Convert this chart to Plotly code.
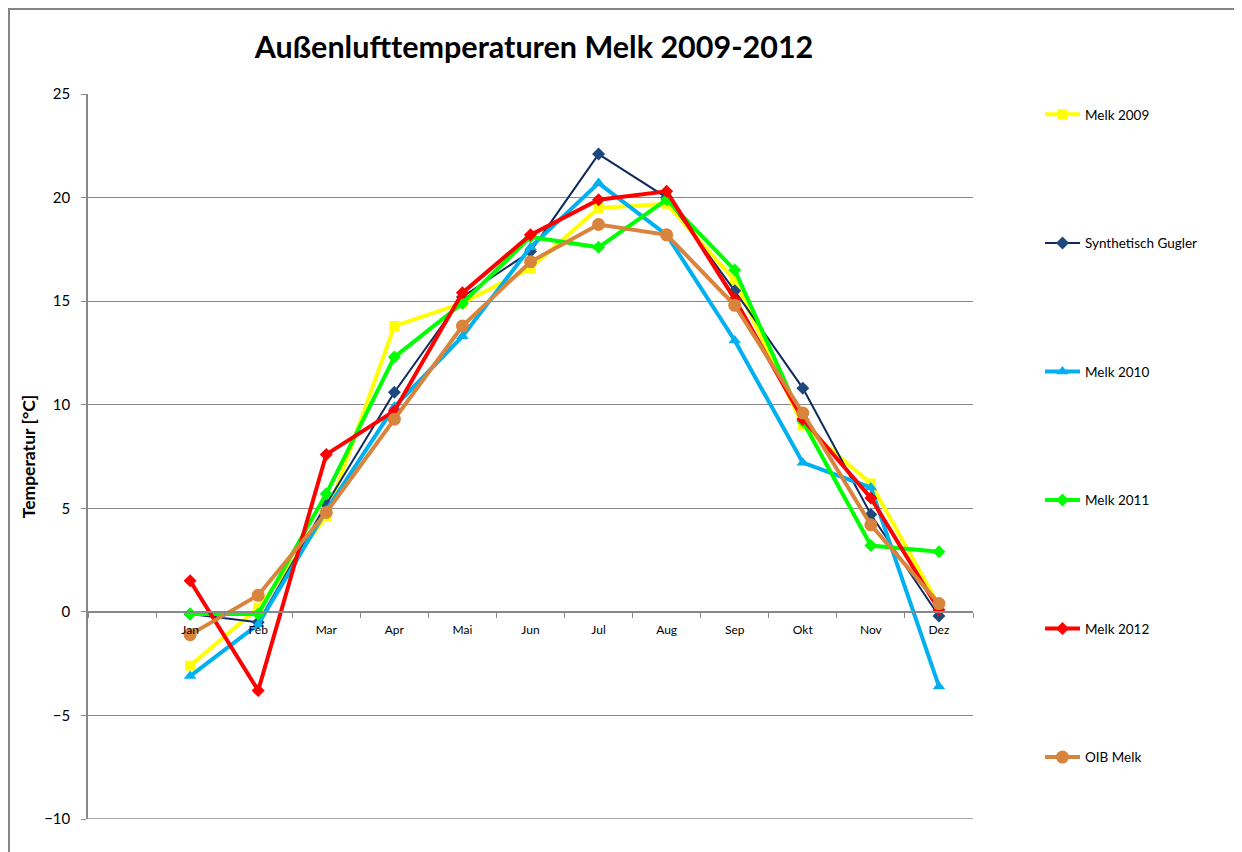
import plotly.graph_objects as go

monate = ["Jan", "Feb", "Mar", "Apr", "Mai", "Jun", "Jul", "Aug", "Sep", "Okt", "Nov", "Dez"]

melk_2009 = [-2.6, 0.2, 4.6, 13.8, 14.9, 16.6, 19.5, 19.7, 16.0, 9.0, 6.2, 0.3]
synth_gugler = [-0.1, -0.5, 5.2, 10.6, 15.2, 17.4, 22.1, 20.0, 15.5, 10.8, 4.7, -0.2]
melk_2010 = [-3.1, -0.6, 4.9, 9.9, 13.3, 17.6, 20.7, 18.2, 13.1, 7.2, 6.0, -3.6]
melk_2011 = [-0.1, -0.1, 5.7, 12.3, 14.9, 18.1, 17.6, 19.9, 16.5, 9.2, 3.2, 2.9]
melk_2012 = [1.5, -3.8, 7.6, 9.7, 15.4, 18.2, 19.9, 20.3, 15.1, 9.3, 5.5, 0.1]
oib_melk = [-1.1, 0.8, 4.8, 9.3, 13.8, 16.9, 18.7, 18.2, 14.8, 9.6, 4.2, 0.4]

FONT = "Lato"
GRID = "#888888"

# name, values, color, line width, marker symbol, marker size
reihen = [
    ("Melk 2009", melk_2009, "#FFFF00", 4, "square", 10),
    ("Synthetisch Gugler", synth_gugler, "#0F2B5E", 2, "diamond", 10),
    ("Melk 2010", melk_2010, "#00B0F0", 4, "triangle-up", 11),
    ("Melk 2011", melk_2011, "#00FF00", 4, "diamond", 10),
    ("Melk 2012", melk_2012, "#FF0000", 4, "diamond", 10),
    ("OIB Melk", oib_melk, "#D9843D", 4, "circle", 13),
]

fig = go.Figure()
for i, (name, werte, farbe, lw, sym, ms) in enumerate(reihen):
    mcol = "#1F497D" if name == "Synthetisch Gugler" else farbe
    fig.add_trace(go.Scatter(
        x=monate, y=werte, name=name, mode="lines+markers",
        line=dict(color=farbe, width=lw),
        marker=dict(symbol=sym, size=ms, color=mcol),
        legendgroup=str(i),
    ))

# page has ~8px body margin, so figure is a bit smaller
W, H = 1234, 844
fig.update_layout(
    width=W, height=H,
    margin=dict(l=80, r=269, t=86, b=33),
    paper_bgcolor="white", plot_bgcolor="white",
    title=dict(text="<b>Außenlufttemperaturen Melk 2009-2012</b>",
               x=526 / W, xanchor="center", y=1 - 39 / H, yanchor="middle",
               font=dict(family=FONT, size=30.5, color="black")),
    legend=dict(x=1.0757, xanchor="left", y=0.993, yanchor="top",
                font=dict(family=FONT, size=13.5, color="black"),
                tracegroupgap=108, itemwidth=35, bgcolor="rgba(0,0,0,0)"),
    showlegend=True,
    font=dict(family=FONT, color="black"),
)

fig.update_xaxes(
    type="category", categoryorder="array", categoryarray=[" "] + monate,
    range=[-0.5, 12.5], anchor="free", position=10 / 35,
    showline=True, linecolor=GRID, linewidth=1.5,
    ticks="outside", ticklen=5, tickcolor=GRID, tickson="boundaries",
    ticklabelstandoff=7,
    showgrid=False, tickfont=dict(family=FONT, size=12, color="black"),
)
fig.update_yaxes(
    range=[-10, 25], dtick=5, showgrid=True, gridcolor=GRID, gridwidth=1,
    zeroline=False, showline=True, linecolor=GRID, linewidth=1.5,
    ticks="outside", ticklen=5, tickcolor=GRID, ticklabelstandoff=8,
    tickfont=dict(family=FONT, size=15, color="black"),
    title=dict(text="<b>Temperatur [°C]</b>", font=dict(family=FONT, size=17.5, color="black"), standoff=4),
)

# bottom gridline at -10
fig.add_shape(type="line", xref="paper", yref="y", x0=0, x1=1, y0=-10, y1=-10,
              line=dict(color=GRID, width=1.5))

# outer chart border
fig.add_shape(type="rect", xref="paper", yref="paper",
              x0=(1 - 80) / 885, x1=(1232 - 80) / 885, y0=-0.2, y1=1 + (86 - 1) / 725,
              line=dict(color="#868686", width=2), layer="below")

fig.write_html("out.html")
